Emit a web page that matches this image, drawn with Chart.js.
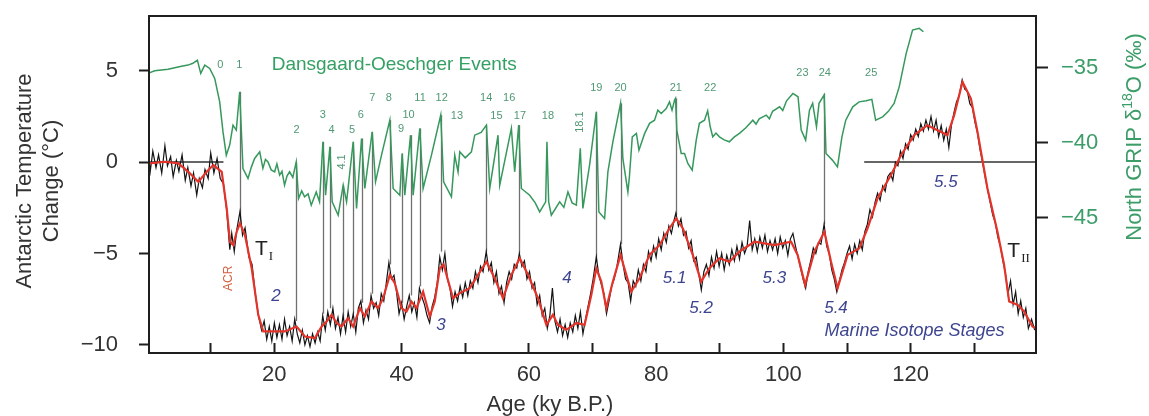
<!DOCTYPE html>
<html>
<head>
<meta charset="utf-8">
<script src="https://cdn.jsdelivr.net/npm/chart.js@4.4.1/dist/chart.umd.min.js"></script>
<style>
  body { margin: 0; background: #fff; }
  canvas { display: block; }
</style>
</head>
<body>
<canvas id="iceChart" width="1149" height="416"></canvas>
<script>
const FONT = '"Liberation Sans", Arial, sans-serif';

// North GRIP d18O (permil), right axis
const ngripAge = [0.16, 1.2, 2.25, 3.3, 4.35, 5.4, 6.44, 7.2, 7.9, 8.43, 9.06, 9.84, 10.63, 11.41, 11.93, 12.45, 12.98, 13.5, 14.02, 14.55,
  15.07, 15.86, 16.4, 16.9, 17.7, 18.2, 18.6, 19.0, 19.5, 20.05, 20.4, 20.83, 21.2, 21.6, 22.0, 22.4, 22.9, 23.44, 23.8, 24.3,
  24.75, 25.3, 25.8, 26.58, 27.1, 27.63, 28.05, 28.73, 29.09, 30.03, 30.82, 31.35, 32.39, 32.92, 33.7, 34.22, 35.37, 35.9, 36.84, 38.15,
  38.67, 39.72, 40.08, 40.5, 41.4, 41.81, 42.86, 43.38, 44.69, 46.15, 46.6, 47.83, 48.35, 48.87, 49.14, 50.0, 50.97, 51.49, 52.5, 53.33,
  53.85, 55.15, 55.42, 57.25, 57.77, 58.4, 58.82, 60.13, 61.0, 61.7, 62.64, 62.84, 63.11, 63.53, 64.84, 65.5, 66.14, 66.8, 67.46, 68.08,
  68.49, 69.54, 70.6, 71.0, 71.9, 72.42, 73.2, 74.41, 74.77, 75.56, 75.8, 76.25, 76.9, 77.3, 78.2, 78.97, 79.75, 80.27, 80.8, 81.59,
  82.1, 82.5, 82.9, 83.05, 83.25, 83.94, 84.46, 84.98, 85.67, 86.3, 86.8, 87.6, 88.1, 88.5, 88.9, 89.4, 89.95, 90.7, 91.5, 92.3,
  93.1, 94.1, 95.2, 95.7, 96.2, 97.3, 97.8, 98.3, 99.4, 99.9, 100.5, 101.5, 102.3, 102.8, 103.5, 104.1, 104.6, 105.2, 105.6, 106.4,
  106.7, 107.7, 108.5, 109.2, 109.8, 110.9, 111.9, 113.0, 113.9, 114.5, 115.6, 116.5, 117.4, 118.2, 119.3, 120.3, 121.35, 122.0];
const ngripD18O = [-35.37, -35.2, -35.15, -35.1, -35.0, -34.9, -34.82, -34.7, -34.49, -35.37, -34.82, -35.04, -35.71, -37.27, -39.27, -40.82, -40.15, -38.82, -39.15, -36.6,
  -41.71, -42.37, -41.6, -41.04, -40.6, -41.7, -41.1, -41.27, -41.8, -41.93, -41.4, -42.15, -41.9, -42.82, -42.2, -41.93, -42.3, -41.27, -43.71, -43.2,
  -43.6, -43.4, -44.15, -43.27, -43.93, -39.93, -43.49, -40.27, -43.93, -44.82, -42.82, -43.93, -39.93, -44.37, -39.71, -43.04, -39.27, -42.6, -40.82, -38.49,
  -43.04, -43.49, -40.71, -43.49, -39.49, -43.49, -39.04, -43.04, -40.82, -38.15, -42.6, -43.6, -40.82, -41.93, -40.6, -41.0, -40.6, -39.49, -39.3, -38.82,
  -43.04, -39.49, -42.82, -39.04, -41.93, -38.82, -43.04, -43.49, -44.0, -44.6, -43.93, -39.93, -43.93, -44.82, -43.93, -44.3, -43.27, -44.0, -44.15, -40.37,
  -44.37, -41.49, -37.93, -44.6, -45.04, -41.93, -39.93, -37.37, -41.04, -43.27, -42.27, -39.6, -39.37, -40.49, -39.37, -38.7, -38.49, -37.82, -38.04, -37.71,
  -37.27, -37.82, -37.15, -37.04, -39.15, -40.71, -40.71, -41.37, -41.82, -39.82, -38.7, -38.49, -37.87, -38.93, -39.6, -39.35, -39.6, -39.8, -39.93, -39.6,
  -39.37, -39.0, -38.49, -38.75, -38.4, -38.15, -38.4, -37.9, -37.6, -37.85, -37.2, -36.71, -36.93, -39.15, -39.82, -37.82, -37.37, -38.93, -37.37, -36.82,
  -40.71, -41.15, -41.6, -39.6, -38.49, -37.6, -37.27, -37.2, -37.1, -38.49, -38.27, -37.9, -37.37, -36.27, -34.04, -32.49, -32.37, -32.6];

// Antarctic temperature change (deg C), smoothed record
const smoothAge = [0.3, 2.83, 4.91, 6.48, 8.05, 9.37, 10.41, 11.73, 12.51, 13.03, 13.55, 14.08, 14.6, 15.38, 16.44, 17.47, 18.26, 19.58, 21.66, 23.5,
  24.8, 26.37, 27.43, 28.21, 29.0, 29.78, 30.57, 31.6, 32.39, 33.44, 34.22, 35.27, 36.31, 37.1, 38.15, 38.93, 39.98, 40.77, 41.55, 42.34,
  43.38, 44.43, 45.21, 46.0, 46.6, 48.08, 49.14, 50.71, 52.01, 53.33, 54.63, 55.93, 57.25, 58.56, 59.86, 61.43, 62.75, 63.78, 64.57, 65.89,
  67.46, 68.76, 69.81, 70.6, 71.38, 72.17, 73.2, 74.41, 75.31, 76.09, 77.39, 78.96, 80.53, 82.1, 83.15, 84.19, 85.76, 87.08, 88.38, 89.95,
  91.52, 93.09, 95.45, 98.59, 101.21, 102.24, 103.41, 104.87, 106.44, 107.49, 108.52, 110.09, 111.93, 113.23, 114.8, 116.91, 118.48, 120.57, 122.65, 124.22,
  125.79, 126.84, 128.15, 129.47, 130.5, 132.07, 133.64, 134.69, 135.48, 136.78, 137.83, 139.14, 139.7];
const smoothTemp = [-0.07, 0.02, -0.07, -0.53, -1.08, -0.53, -0.16, -0.53, -2.53, -4.36, -4.54, -3.81, -3.35, -3.99, -5.81, -8.36, -9.27, -9.27, -9.27, -9.0,
  -9.55, -9.63, -9.0, -8.73, -8.36, -8.81, -9.0, -8.54, -9.0, -7.99, -8.45, -7.63, -7.99, -7.45, -6.17, -6.63, -7.99, -8.18, -7.63, -7.99,
  -7.09, -8.45, -7.63, -5.81, -5.6, -7.45, -7.17, -6.9, -6.17, -5.45, -6.36, -7.45, -6.17, -5.26, -6.17, -7.45, -8.91, -8.36, -8.91, -9.18,
  -8.81, -8.91, -7.27, -5.81, -6.54, -7.99, -6.54, -5.08, -6.17, -7.09, -6.36, -5.08, -4.54, -3.62, -3.08, -3.62, -5.08, -6.54, -5.81, -5.26,
  -5.45, -4.9, -4.36, -4.54, -4.36, -5.08, -6.72, -4.9, -3.81, -5.45, -6.9, -5.08, -4.72, -3.62, -1.98, -0.71, 0.38, 1.48, 2.02, 1.75,
  1.48, 2.57, 4.39, 3.48, 1.66, -1.44, -3.81, -5.63, -7.63, -7.81, -8.18, -9.0, -9.1];

// Antarctic temperature change (deg C), raw record
const rawAge = [0.3, 0.5, 0.9, 1.4, 1.8, 2.3, 2.8, 3.2, 3.7, 4.1, 4.6, 5.0, 5.5, 6.0, 6.4, 6.9, 7.3, 7.8, 8.2, 8.7,
  9.1, 9.6, 10.0, 10.5, 11.0, 11.5, 12.0, 12.5, 13.0, 13.3, 13.7, 14.1, 14.6, 15.0, 15.4, 16.0, 16.5, 17.0, 17.5, 18.0,
  18.4, 18.8, 19.2, 19.6, 20.0, 20.4, 20.8, 21.2, 21.6, 22.0, 22.4, 22.8, 23.2, 23.6, 24.0, 24.4, 24.8, 25.2, 25.6, 26.0,
  26.4, 26.8, 27.2, 27.6, 28.0, 28.4, 28.8, 29.2, 29.6, 30.0, 30.4, 30.8, 31.2, 31.6, 32.0, 32.4, 32.8, 33.2, 33.6, 34.0,
  34.4, 34.8, 35.2, 35.6, 36.0, 36.4, 36.8, 37.2, 37.6, 38.0, 38.4, 38.8, 39.2, 39.6, 40.0, 40.4, 40.8, 41.2, 41.6, 42.0,
  42.4, 42.8, 43.2, 43.6, 44.0, 44.4, 44.8, 45.2, 45.6, 46.0, 46.4, 46.8, 47.2, 47.6, 48.0, 48.4, 48.8, 49.2, 49.6, 50.0,
  50.4, 50.8, 51.2, 51.6, 52.0, 52.4, 52.8, 53.3, 53.7, 54.1, 54.5, 54.9, 55.3, 55.7, 56.1, 56.5, 56.9, 57.3, 57.7, 58.1,
  58.5, 58.9, 59.3, 59.7, 60.1, 60.5, 60.9, 61.3, 61.7, 62.1, 62.5, 62.9, 63.3, 63.7, 64.1, 64.5, 64.9, 65.3, 65.7, 66.1,
  66.5, 66.9, 67.3, 67.7, 68.1, 68.5, 68.9, 69.3, 69.7, 70.1, 70.6, 71.0, 71.4, 71.8, 72.2, 72.6, 73.0, 73.4, 73.8, 74.4,
  74.8, 75.2, 75.6, 76.0, 76.4, 76.8, 77.2, 77.6, 78.0, 78.4, 78.8, 79.2, 79.6, 80.0, 80.4, 80.8, 81.2, 81.6, 82.0, 82.4,
  82.8, 83.1, 83.5, 83.9, 84.3, 84.7, 85.1, 85.5, 85.9, 86.3, 86.7, 87.1, 87.5, 87.9, 88.3, 88.7, 89.1, 89.5, 89.9, 90.3,
  90.7, 91.1, 91.5, 91.9, 92.3, 92.7, 93.1, 93.5, 93.9, 94.3, 94.7, 95.1, 95.5, 95.9, 96.3, 96.7, 97.1, 97.5, 97.9, 98.3,
  98.7, 99.1, 99.5, 99.9, 100.3, 100.7, 101.1, 101.5, 101.9, 102.3, 102.7, 103.1, 103.5, 103.9, 104.3, 104.7, 105.1, 105.5, 105.9, 106.4,
  106.8, 107.2, 107.6, 108.0, 108.4, 108.8, 109.2, 109.6, 110.0, 110.4, 110.8, 111.2, 111.6, 112.0, 112.4, 112.8, 113.2, 113.6, 114.0, 114.4,
  114.8, 115.2, 115.6, 116.0, 116.4, 116.8, 117.2, 117.6, 118.0, 118.4, 118.8, 119.2, 119.6, 120.0, 120.4, 120.8, 121.2, 121.6, 122.0, 122.4,
  122.8, 123.2, 123.6, 124.0, 124.4, 124.8, 125.2, 125.6, 126.0, 126.4, 126.8, 127.2, 127.6, 128.1, 128.5, 128.9, 129.3, 129.7, 130.1, 130.5,
  130.9, 131.3, 131.7, 132.1, 132.5, 132.9, 133.3, 133.7, 134.1, 134.5, 134.9, 135.3, 135.7, 136.1, 136.5, 136.9, 137.3, 137.7, 138.1, 138.5,
  139.0, 139.5];
const rawTemp = [0.2, -0.5, 0.6, -0.3, 0.4, -0.6, 0.9, -0.2, 0.3, -0.8, 0.1, -0.5, 0.4, -1.0, -0.3, -1.3, -0.6, -1.8, -0.9, -1.4,
  -0.4, -0.9, 0.5, -0.6, 0.2, -0.9, -1.2, -2.6, -4.8, -3.9, -4.9, -3.7, -2.7, -4.0, -3.6, -5.2, -5.6, -7.2, -8.4, -9.2,
  -8.7, -9.7, -9.0, -9.8, -8.8, -9.6, -8.9, -9.7, -8.6, -9.5, -9.0, -9.8, -8.6, -9.4, -9.9, -9.2, -10.0, -9.5, -10.1, -9.4,
  -9.9, -9.3, -9.8, -8.4, -9.2, -8.2, -8.9, -8.0, -9.1, -8.5, -9.4, -8.4, -9.3, -8.2, -9.0, -8.3, -9.3, -8.0, -7.6, -8.8,
  -8.1, -8.6, -7.3, -8.0, -7.7, -8.4, -7.2, -7.6, -6.6, -5.5, -6.4, -6.2, -7.1, -8.3, -7.7, -8.6, -7.9, -7.3, -8.2, -7.7,
  -8.5, -6.9, -7.4, -7.8, -8.4, -8.8, -7.9, -7.4, -6.6, -5.2, -5.9, -5.0, -6.4, -6.9, -7.9, -7.1, -7.6, -6.8, -7.4, -6.6,
  -7.3, -6.5, -6.9, -6.0, -6.6, -5.7, -6.0, -4.9, -5.9, -5.5, -6.6, -6.0, -7.2, -6.8, -7.7, -6.6, -6.0, -6.4, -5.6, -5.8,
  -5.0, -5.7, -5.4, -6.4, -6.0, -6.9, -6.6, -7.8, -7.3, -8.4, -8.0, -9.1, -8.4, -6.9, -8.7, -9.3, -8.6, -9.5, -8.9, -9.6,
  -8.8, -9.3, -8.4, -9.1, -8.2, -9.4, -8.6, -7.9, -7.2, -6.4, -5.2, -6.2, -6.7, -7.2, -8.3, -7.6, -6.8, -6.4, -5.8, -4.5,
  -5.6, -6.4, -6.6, -7.6, -6.5, -6.8, -5.9, -6.5, -5.6, -6.0, -4.9, -5.4, -4.6, -5.2, -4.2, -4.8, -3.9, -4.4, -3.5, -3.9,
  -3.2, -2.8, -3.5, -3.1, -4.0, -3.8, -4.7, -4.3, -5.4, -5.2, -6.1, -7.0, -6.0, -5.6, -6.2, -5.2, -5.8, -4.9, -5.7, -5.0,
  -5.9, -5.1, -5.6, -4.8, -5.4, -4.6, -5.3, -4.4, -5.0, -4.6, -3.2, -4.8, -4.2, -4.9, -4.1, -4.7, -4.0, -4.9, -4.3, -4.8,
  -4.2, -5.0, -4.1, -4.7, -4.3, -5.1, -4.2, -3.9, -4.6, -5.2, -5.8, -6.4, -6.9, -6.0, -5.4, -4.7, -5.0, -4.4, -4.5, -3.4,
  -4.6, -5.0, -5.9, -6.4, -7.1, -6.5, -5.9, -5.5, -5.0, -4.6, -5.3, -4.5, -5.0, -4.3, -4.8, -3.8, -3.4, -2.6, -3.0, -2.2,
  -1.7, -2.1, -1.3, -1.6, -0.8, -0.6, -1.0, 0.0, -0.2, 0.6, 0.2, 1.0, 0.7, 1.5, 1.2, 1.8, 1.4, 2.1, 1.7, 2.3,
  1.8, 2.5, 1.7, 2.3, 1.4, 2.0, 1.2, 1.8, 0.8, 2.0, 2.7, 3.3, 3.6, 4.5, 4.0, 3.9, 3.2, 3.0, 2.2, 1.6,
  0.7, 0.0, -0.8, -1.5, -2.2, -2.9, -3.3, -4.1, -4.6, -5.4, -6.1, -7.2, -6.5, -7.8, -7.1, -8.3, -7.6, -8.5, -8.0, -9.1,
  -8.6, -9.2];

// Dansgaard-Oeschger events tied between the two records
const eventAge = [14.55, 23.44, 27.63, 28.73, 30.82, 32.39, 33.7, 35.37, 38.15, 40.08, 41.4, 42.86, 46.15, 53.33, 58.4, 70.6, 74.41, 83.05, 106.4];
const eventTop = [-36.6, -41.27, -39.93, -40.27, -42.82, -39.93, -39.71, -39.27, -38.49, -40.71, -39.49, -39.04, -38.15, -38.82, -38.82, -37.93, -37.37, -37.04, -36.71];
const eventBase = [-3.3, -8.7, -8.3, -8.0, -8.6, -8.3, -7.7, -7.2, -5.6, -7.7, -7.3, -6.8, -4.9, -4.9, -5.0, -5.4, -4.5, -2.9, -3.4];

// event numbers, placed on the d18O axis
const doNames = ['0', '1', '2', '3', '4', '4.1', '5', '6', '7', '8', '9', '10', '11', '12', '13', '14', '15', '16', '17', '18', '18.1', '19', '20', '21', '22', '23', '24', '25'];
const doAge = [11.5, 14.5, 23.5, 27.6, 29.0, 30.7, 32.2, 33.6, 35.4, 38.0, 39.9, 41.1, 42.9, 46.3, 48.7, 53.3, 54.9, 56.9, 58.6, 63.0, 68.0, 70.6, 74.4, 83.1, 88.5, 103.0, 106.5, 113.8];
const doLevel = [-34.82, -34.82, -39.15, -38.15, -39.15, -41.27, -39.15, -38.15, -37.04, -37.04, -39.09, -38.15, -37.04, -37.04, -38.22, -37.04, -38.22, -37.04, -38.22, -38.22, -38.62, -36.35, -36.35, -36.35, -36.35, -35.37, -35.37, -35.37];

// marine isotope stages, placed on the temperature axis
const stageNames = ['2', '3', '4', '5.1', '5.2', '5.3', '5.4', '5.5'];
const stageAge = [20.25, 46.2, 65.98, 82.89, 87.08, 98.59, 108.27, 125.54];
const stageLevel = [-7.36, -8.91, -6.36, -6.36, -7.99, -6.36, -7.99, -1.08];

// reference lines at 0 deg C
const zeroLeftAge = [0.3, 12.0];
const zeroRightAge = [112.7, 139.7];

const ageTicks = [10, 20, 30, 40, 50, 60, 70, 80, 90, 100, 110, 120, 130];
const tempTicks = [-10, -5, 0, 5];
const d18oTicks = [-45, -40, -35];

const toPoints = (xs, ys) => xs.map((x, i) => ({ x: x, y: ys[i] }));
const minus = v => String(v).replace('-', '\u2212');

// keep the plot box where the layout padding puts it
const noEdgePadding = s => {
  s.paddingTop = 0; s.paddingBottom = 0; s.paddingLeft = 0; s.paddingRight = 0;
};

const decorations = {
  id: 'decorations',
  beforeDatasetsDraw(chart) {
    const { ctx, scales: { x, yT, yO } } = chart;
    ctx.save();
    ctx.strokeStyle = '#707070';
    ctx.lineWidth = 1.3;
    eventAge.forEach((a, i) => {
      const px = Math.round(x.getPixelForValue(a)) + 0.5;
      ctx.beginPath();
      ctx.moveTo(px, yO.getPixelForValue(eventTop[i]));
      ctx.lineTo(px, yT.getPixelForValue(eventBase[i]));
      ctx.stroke();
    });
    ctx.restore();
  },
  afterDraw(chart) {
    const { ctx, chartArea: a, scales: { x, yT, yO } } = chart;
    ctx.save();

    // frame
    ctx.strokeStyle = '#1e1e1e';
    ctx.lineWidth = 2;
    ctx.strokeRect(a.left, a.top, a.right - a.left, a.bottom - a.top);

    // event numbers
    ctx.fillStyle = '#4f9873';
    ctx.font = '11px ' + FONT;
    ctx.textAlign = 'center';
    ctx.textBaseline = 'middle';
    doNames.forEach((n, i) => {
      const px = x.getPixelForValue(doAge[i]);
      const py = yO.getPixelForValue(doLevel[i]);
      if (n.indexOf('.') > 0) {
        ctx.save();
        ctx.translate(px, py);
        ctx.rotate(-Math.PI / 2);
        ctx.fillText(n, 0, 0);
        ctx.restore();
      } else {
        ctx.fillText(n, px, py);
      }
    });

    ctx.fillStyle = '#35a064';
    ctx.font = '19px ' + FONT;
    ctx.textAlign = 'left';
    ctx.textBaseline = 'alphabetic';
    ctx.fillText('Dansgaard-Oeschger Events', x.getPixelForValue(19.58), yO.getPixelForValue(-35.15));

    // stage numbers
    ctx.fillStyle = '#3d4590';
    ctx.font = 'italic 17px ' + FONT;
    ctx.textAlign = 'center';
    ctx.textBaseline = 'middle';
    stageNames.forEach((n, i) => {
      ctx.fillText(n, x.getPixelForValue(stageAge[i]), yT.getPixelForValue(stageLevel[i]));
    });
    ctx.font = 'italic 18px ' + FONT;
    ctx.fillText('Marine Isotope Stages', x.getPixelForValue(120.6), yT.getPixelForValue(-9.27));

    // terminations
    ctx.fillStyle = '#222';
    ctx.textAlign = 'left';
    ctx.textBaseline = 'alphabetic';
    [[16.95, -5.08, 'I'], [135.2, -5.17, 'II']].forEach(([age, t, sub]) => {
      const px = x.getPixelForValue(age);
      const py = yT.getPixelForValue(t);
      ctx.font = '21px ' + FONT;
      ctx.fillText('T', px, py);
      const w = ctx.measureText('T').width;
      ctx.font = '13px "Liberation Serif", serif';
      ctx.fillText(sub, px + w + 1, py + 5);
    });

    // Antarctic Cold Reversal
    ctx.fillStyle = '#d2603f';
    ctx.font = '12px ' + FONT;
    ctx.textAlign = 'center';
    ctx.textBaseline = 'middle';
    ctx.save();
    ctx.translate(x.getPixelForValue(12.77), yT.getPixelForValue(-6.36));
    ctx.rotate(-Math.PI / 2);
    ctx.fillText('ACR', 0, 0);
    ctx.restore();

    // axis titles
    ctx.fillStyle = '#333';
    ctx.font = '22px ' + FONT;
    ctx.textAlign = 'center';
    ctx.textBaseline = 'alphabetic';
    ctx.fillText('Age (ky B.P.)', 550, 411);

    ctx.textBaseline = 'middle';
    ctx.save();
    ctx.translate(25, 181);
    ctx.rotate(-Math.PI / 2);
    ctx.fillText('Antarctic Temperature', 0, 0);
    ctx.restore();
    ctx.save();
    ctx.translate(52, 181);
    ctx.rotate(-Math.PI / 2);
    ctx.fillText('Change (\u00b0C)', 0, 0);
    ctx.restore();

    // right title with superscript 18
    const runs = [['North GRIP \u03b4', 22, 0], ['18', 14, -7], ['O (\u2030)', 22, 0]];
    ctx.fillStyle = '#3c9d68';
    let total = 0;
    runs.forEach(r => { ctx.font = r[1] + 'px ' + FONT; total += ctx.measureText(r[0]).width; });
    ctx.save();
    ctx.translate(1135, 137);
    ctx.rotate(-Math.PI / 2);
    ctx.textAlign = 'left';
    let cx = -total / 2;
    runs.forEach(r => {
      ctx.font = r[1] + 'px ' + FONT;
      ctx.fillText(r[0], cx, r[2]);
      cx += ctx.measureText(r[0]).width;
    });
    ctx.restore();

    ctx.restore();
  }
};

Chart.defaults.font.family = FONT;

new Chart(document.getElementById('iceChart'), {
  type: 'line',
  data: {
    datasets: [
      {
        data: toPoints(smoothAge, smoothTemp), yAxisID: 'yT', order: 1,
        borderColor: '#e3342b', borderWidth: 2.2, pointRadius: 0, tension: 0
      },
      {
        data: toPoints(rawAge, rawTemp), yAxisID: 'yT', order: 2,
        borderColor: '#141414', borderWidth: 1.2, pointRadius: 0
      },
      {
        data: toPoints(ngripAge, ngripD18O), yAxisID: 'yO', order: 3,
        borderColor: '#36985c', borderWidth: 1.5, pointRadius: 0
      },
      {
        data: toPoints(zeroLeftAge, [0, 0]), yAxisID: 'yT', order: 4,
        borderColor: '#333', borderWidth: 1.5, pointRadius: 0
      },
      {
        data: toPoints(zeroRightAge, [0, 0]), yAxisID: 'yT', order: 4,
        borderColor: '#333', borderWidth: 1.5, pointRadius: 0
      }
    ]
  },
  options: {
    responsive: false,
    animation: false,
    layout: { padding: { top: 16, left: 0, right: 0, bottom: 0 } },
    plugins: { legend: { display: false }, tooltip: { enabled: false } },
    scales: {
      x: {
        type: 'linear', position: 'bottom', min: 0.3, max: 139.7,
        afterBuildTicks: s => { s.ticks = ageTicks.map(v => ({ value: v })); },
        afterFit: s => { s.height = 63; noEdgePadding(s); },
        ticks: {
          autoSkip: false, maxRotation: 0, padding: 19,
          color: '#333', font: { size: 22 },
          callback: v => (v % 20 === 0 ? v : '')
        },
        grid: { drawOnChartArea: false, drawTicks: true, tickLength: -10, tickColor: '#1e1e1e', tickWidth: 2 },
        border: { display: false }
      },
      yT: {
        type: 'linear', position: 'left', min: -10.45, max: 8,
        afterBuildTicks: s => { s.ticks = tempTicks.map(v => ({ value: v })); },
        afterFit: s => { s.width = 149; noEdgePadding(s); },
        ticks: { padding: 21, color: '#333', font: { size: 22 }, callback: v => minus(v) },
        grid: { drawOnChartArea: false, tickLength: 10, tickColor: '#1e1e1e', tickWidth: 2 },
        border: { display: false }
      },
      yO: {
        type: 'linear', position: 'right', min: -54, max: -31.55,
        afterBuildTicks: s => { s.ticks = d18oTicks.map(v => ({ value: v })); },
        afterFit: s => { s.width = 113; noEdgePadding(s); },
        ticks: { padding: 13, color: '#3c9d68', font: { size: 22 }, callback: v => minus(v) },
        grid: { drawOnChartArea: false, tickLength: 12, tickColor: '#1e1e1e', tickWidth: 2 },
        border: { display: false }
      }
    }
  },
  plugins: [decorations]
});
</script>
</body>
</html>
